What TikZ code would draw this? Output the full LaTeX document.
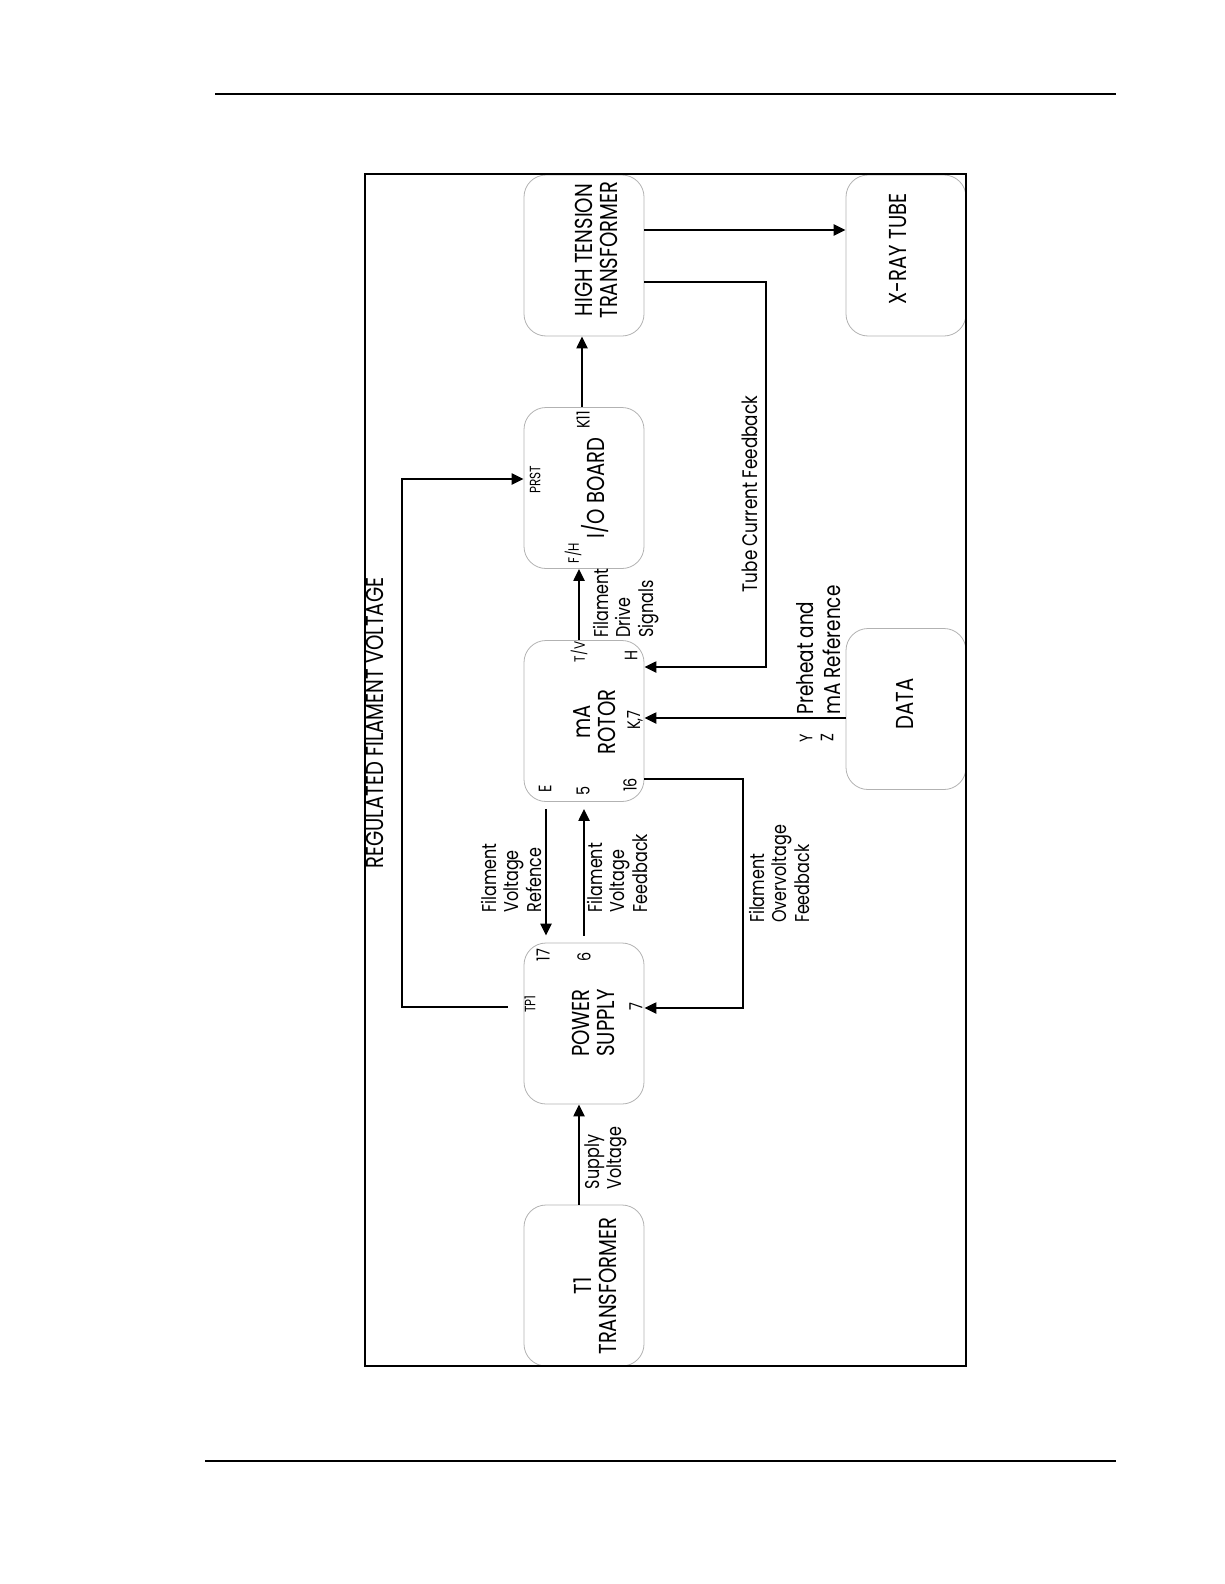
\documentclass[tikz,border=0pt]{standalone}
\usepackage{fontspec}
\setmainfont{Poppins}[FakeStretch=0.8]
\usetikzlibrary{arrows.meta}

\begin{document}
\begin{tikzpicture}[x=1pt, y=-1pt,
  blk/.style={draw=gray!60, line width=0.8pt, rounded corners=22pt,
              minimum width=120pt, minimum height=161pt, inner sep=0pt},
  ttl/.style={rotate=90, align=center, inner sep=0pt,
              font=\fontsize{24.5}{25}\selectfont},
  lbl/.style={rotate=90, align=left, inner sep=0pt,
              font=\fontsize{20}{22.5}\selectfont},
  pin/.style={rotate=90, inner sep=0pt, font=\fontsize{18}{18}\selectfont},
  tag/.style={rotate=90, inner sep=0pt, font=\fontsize{15}{15}\selectfont},
  arr/.style={-{Triangle[length=12pt,width=11pt]}, line width=2.2pt}
]
  \useasboundingbox (0,0) rectangle (1224,1584);

  % page rules
  \draw[line width=1.8pt] (215,94) -- (1116,94);
  \draw[line width=1.8pt] (205,1461) -- (1116,1461);

  % blocks
  \node[blk] (ht)   at (584,255.5)  {};
  \node[blk] (io)   at (584,488)    {};
  \node[blk] (ma)   at (584,721)    {};
  \node[blk] (ps)   at (584,1023.5) {};
  \node[blk] (t1)   at (584,1285.5) {};
  \node[blk] (xr)   at (906,255.5)  {};
  \node[blk] (data) at (906,709)    {};

  \node[ttl] (htt)   at (596,250)  {HIGH TENSION\\TRANSFORMER};
  \node[ttl] (iot)   at (595,488)  {I/O BOARD};
  \node[ttl] (mat)   at (595,722)  {mA\\ROTOR};
  \node[ttl] (pst)   at (593,1023) {POWER\\SUPPLY};
  \node[ttl] (t1t)   at (595,1286) {T1\\TRANSFORMER};
  \node[ttl] (xrt)   at (898,249)  {X-RAY TUBE};
  \node[ttl] (datat) at (905,704)  {DATA};
  \node[ttl] (reg)   at (375,723)  {REGULATED FILAMENT VOLTAGE};

  % pins
  \node[tag] (prst) at (535,480)  {PRST};
  \node[tag] (fh)   at (573,553)  {F/H};
  \node[pin] (k11)  at (583,420)  {K11};
  \node[tag] (tv)   at (579,652)  {T/V};
  \node[pin] (ph)   at (631,656)  {H};
  \node[pin] (k7)   at (635,720)  {K,7};
  \node[pin] (pe)   at (545,789)  {E};
  \node[pin] (p5)   at (583,791)  {5};
  \node[pin] (p16)  at (630,785)  {16};
  \node[tag] (tp1)  at (530,1004) {TP1};
  \node[pin] (p17)  at (543,955)  {17};
  \node[pin] (p6)   at (584,957)  {6};
  \node[pin] (p7)   at (636,1007) {7};
  \node[pin] (py)   at (806,738)  {Y};
  \node[pin] (pz)   at (827,738)  {Z};

  % signal labels
  \node[lbl] (fvr) at (511,878)  {Filament\\Voltage\\Refence};
  \node[lbl] (fvf) at (617,873)  {Filament\\Voltage\\Feedback};
  \node[lbl] (fof) at (779,874)  {Filament\\Overvoltage\\Feedback};
  \node[lbl] (fds) at (626,603)  {Filament\\Drive\\Signals};
  \node[lbl] (svl) at (606,1158) {Supply\\Voltage};
  \node[lbl, font=\fontsize{21}{22}\selectfont] (tcf) at (750,494)
        {Tube Current Feedback};
  \node[lbl, font=\fontsize{23}{27}\selectfont] (pmr) at (819,650)
        {Preheat and\\mA Reference};

  % connectors
  \draw[arr] (ht.east |- 0,230) -- (xr.west |- 0,230);
  \draw[arr] (ht.east |- 0,282) -- (766,282) -- (766,667) -- (ma.east |- 0,667);
  \draw[arr] (io.north -| 582,0) -- (ht.south -| 582,0);
  \draw[arr] (ma.north -| 579,0) -- (io.south -| 579,0);
  \draw[arr] (data.west |- 0,718) -- (ma.east |- 0,718);
  \draw[arr] (ma.east |- 0,779) -- (743,779) -- (743,1008) -- (ps.east |- 0,1008);
  \draw[arr, shorten <=7pt, shorten >=7pt] (ma.south -| 546,0) -- (ps.north -| 546,0);
  \draw[arr, shorten <=7pt, shorten >=7pt] (ps.north -| 584,0) -- (ma.south -| 584,0);
  \draw[arr, shorten <=16pt] (ps.west |- 0,1007) -- (402,1007) -- (402,479) -- (io.west |- 0,479);
  \draw[arr] (t1.north -| 579,0) -- (ps.south -| 579,0);

  % frame
  \draw[line width=1.5pt] (365,174) rectangle (966,1366);
\end{tikzpicture}
\end{document}
